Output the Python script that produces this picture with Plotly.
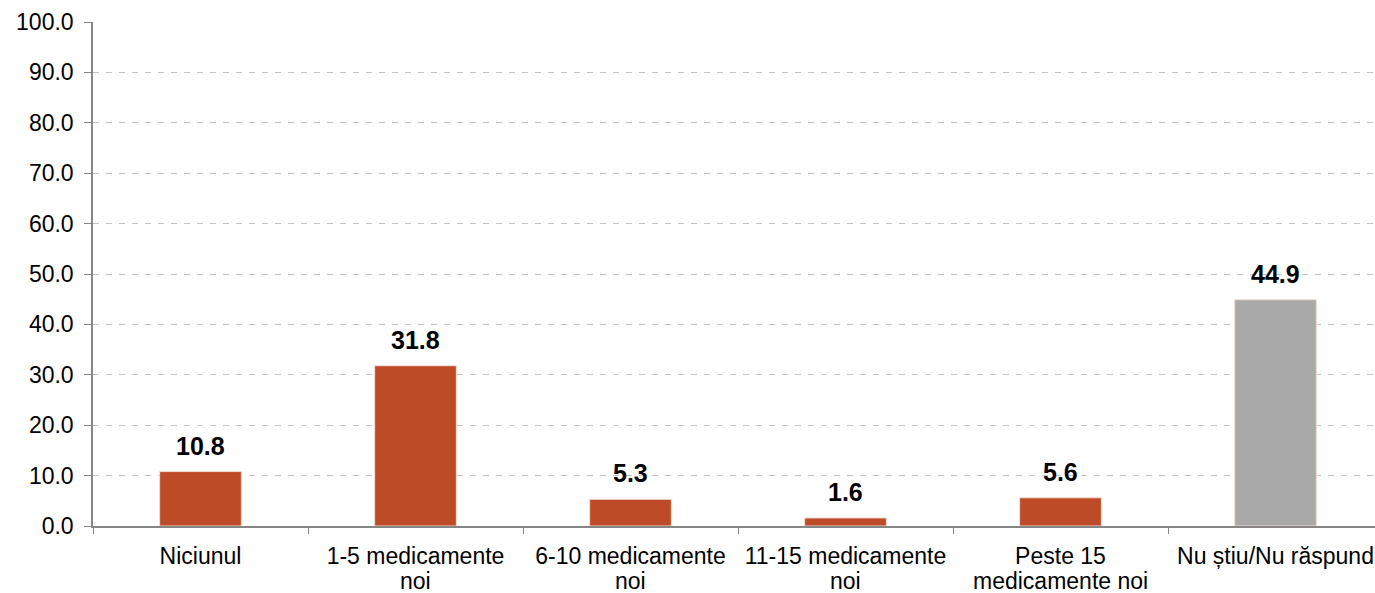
import plotly.graph_objects as go

categories = ["Niciunul", "1-5 medicamente noi", "6-10 medicamente noi",
              "11-15 medicamente noi", "Peste 15 medicamente noi", "Nu știu/Nu răspund"]
label_line1 = ["Niciunul", "1-5 medicamente", "6-10 medicamente",
               "11-15 medicamente", "Peste 15", "Nu știu/Nu răspund"]
label_line2 = ["", "noi", "noi", "noi", "medicamente noi", ""]
values = [10.8, 31.8, 5.3, 1.6, 5.6, 44.9]
bar_colors = ["#BE4B28", "#BE4B28", "#BE4B28", "#BE4B28", "#BE4B28", "#A9A9A9"]
y_ticks = [0, 10, 20, 30, 40, 50, 60, 70, 80, 90, 100]

FONT = "Liberation Sans, Arial"

fig = go.Figure()
fig.add_trace(go.Bar(
    x=categories, y=values,
    marker=dict(color=bar_colors, line=dict(color="#F2DCD5", width=1)),
    width=0.38,
    hoverinfo="skip",
))

for c, v in zip(categories, values):
    fig.add_annotation(x=c, y=v, text=f"<b>{v:.1f}</b>", showarrow=False,
                       yanchor="bottom", yshift=10,
                       font=dict(family=FONT, size=25, color="#000000"))

for c, l2 in zip(categories, label_line2):
    if l2:
        fig.add_annotation(x=c, y=0, yref="paper", text=l2, showarrow=False,
                           yanchor="middle", yshift=-55,
                           font=dict(family=FONT, size=23, color="#000000"))

fig.update_layout(
    width=1383, height=593,
    margin=dict(l=93, r=0, t=22, b=67),
    paper_bgcolor="white", plot_bgcolor="white",
    showlegend=False,
    font=dict(family=FONT, color="#000000"),
)
fig.update_yaxes(
    range=[0, 100], tickvals=y_ticks, ticktext=[f"{t:.1f}" for t in y_ticks],
    showgrid=True, gridcolor="#C4C4C4", griddash="6px,7px", gridwidth=1.3,
    showline=True, linecolor="#868686", linewidth=1.5,
    ticks="outside", ticklen=7, tickcolor="#868686",
    ticklabelstandoff=6,
    tickfont=dict(size=23, family=FONT),
    zeroline=False,
)
fig.update_xaxes(
    tickvals=categories, ticktext=label_line1,
    showline=True, linecolor="#868686", linewidth=1.5,
    ticks="outside", ticklen=6, tickcolor="#868686", tickson="boundaries",
    ticklabelstandoff=9,
    tickfont=dict(size=23, family=FONT),
    showgrid=False,
)

fig.write_html(
    "out.html",
    config={"displayModeBar": False},
    post_script="document.body.style.margin='0';document.body.style.overflow='hidden';",
)
